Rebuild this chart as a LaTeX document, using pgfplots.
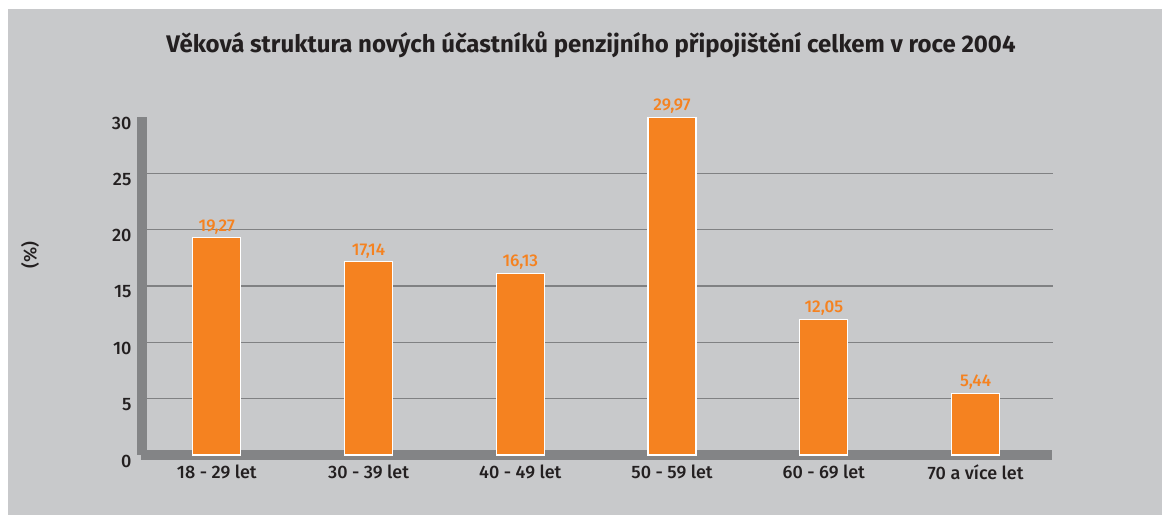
\documentclass[border=0pt]{standalone}
\usepackage{fontspec}
\setmainfont{Fira Sans}
\newfontfamily\medfont{Fira Sans Medium}
\usepackage{pgfplots}
\pgfplotsset{compat=1.18}
\definecolor{bgc}{HTML}{C8C9CB}
\definecolor{wallc}{HTML}{838486}
\definecolor{gridc}{HTML}{808183}
\definecolor{barc}{HTML}{F58220}
\definecolor{txt}{HTML}{231F20}

\begin{document}
\begin{tikzpicture}[x=1pt,y=1pt]
  % background panel and the grey "3D" wall/floor
  \useasboundingbox (0,0) rectangle (1162,515);
  \fill[bgc] (8,0) rectangle (1162,506);
  \fill[wallc] (137,60) rectangle (147,398);
  \fill[wallc] (141,55) rectangle (1052,65);
  \node[font=\bfseries\fontsize{24}{28}\selectfont, text=txt] at (591,470)
    {Věková struktura nových účastníků penzijního připojištění celkem v roce 2004};
  \node[rotate=90, font=\medfont\fontsize{18}{20}\selectfont, text=txt] at (30,260) {(\%)};
  \begin{axis}[
      at={(147pt,60pt)}, anchor=south west,
      scale only axis,
      width=906pt, height=338pt,
      xmin=-0.46, xmax=5.51,
      ymin=0, ymax=30,
      ybar, bar width=48pt,
      axis line style={draw=none},
      major tick length=0pt,
      ytick={5,10,...,25},
      extra y ticks={0,30},
      extra y tick style={grid=none},
      ymajorgrids,
      grid style={gridc, line width=1.2pt},
      xtick={0,...,5},
      xticklabels={18 - 29 let, 30 - 39 let, 40 - 49 let, 50 - 59 let, 60 - 69 let, 70 a více let},
      xticklabel style={font=\medfont\fontsize{18}{20}\selectfont, text=txt, yshift=-6pt},
      yticklabel style={font=\medfont\fontsize{18}{20}\selectfont, text=txt, xshift=-12pt, yshift=-6pt},
      /pgf/number format/assume math mode=true,
      nodes near coords,
      every node near coord/.append style={font=\medfont\fontsize{17}{19}\selectfont, text=barc,
        /pgf/number format/.cd, fixed, fixed zerofill, precision=2, use comma},
    ]
    \addplot[fill=barc, draw=white, line width=1.2pt] coordinates {
      (0,19.27) (1,17.14) (2,16.13) (3,29.97) (4,12.05) (5,5.44)
    };
  \end{axis}
\end{tikzpicture}
\end{document}
